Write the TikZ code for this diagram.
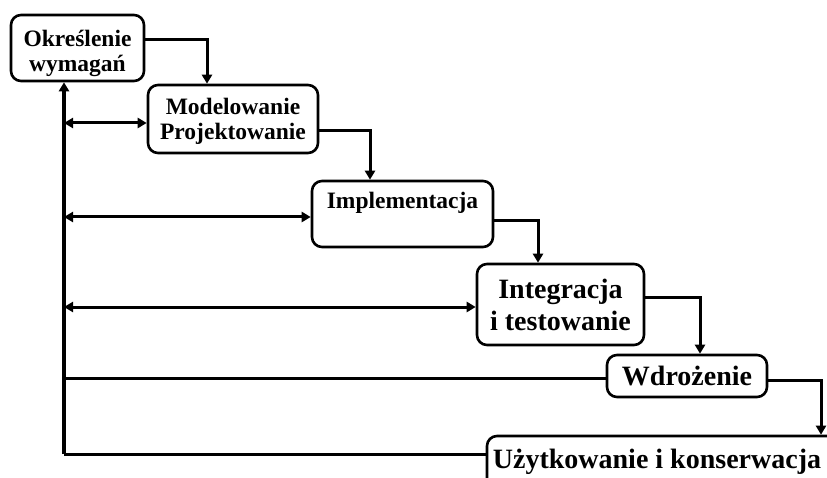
\documentclass[tikz,border=0pt]{standalone}
\usepackage{fontspec}
\setmainfont{Liberation Serif}
\usetikzlibrary{arrows.meta}
\tikzset{
  box/.style={draw, line width=2.6pt, rounded corners=10pt, fill=white, inner sep=0pt, align=center},
  conn/.style={line width=3pt, line join=miter},
  tip/.tip={Triangle[length=9pt,width=10pt]},
  arr/.style={conn, -tip},
  darr/.style={conn, tip-tip},
  fa/.style={font=\fontsize{23.5}{25}\selectfont\bfseries, align=center},
  fb/.style={font=\fontsize{28}{32}\selectfont\bfseries, align=center},
}
\begin{document}
\begin{tikzpicture}[x=1pt,y=-1pt]
\useasboundingbox (0,0) rectangle (827,478);
\clip (0,0) rectangle (827,478);
% boxes
\node[box, minimum width=133pt, minimum height=66pt] (b1) at (77.5,48) {};
\node[fa] (t1) at (77.5,53) {Określenie\\wymagań};
\node[box, minimum width=170pt, minimum height=68pt] (b2) at (233,119) {};
\node[fa] (t2) at (233,121) {Modelowanie\\Projektowanie};
\node[box, minimum width=181pt, minimum height=66pt] (b3) at (402.5,214) {};
\node[fa] (t3) at (402.5,203) {Implementacja};
\node[box, fb, minimum width=167pt, minimum height=81pt] (b4) at (560.5,304.5) {Integracja\\i testowanie};
\node[box, fb, minimum width=160pt, minimum height=42pt] (b5) at (687,376) {Wdrożenie};
\node[box, minimum width=350pt, minimum height=56pt] (b6) at (662,464) {};
\node[fb] (t6) at (657,462) {Użytkowanie i konserwacja};
% forward cascade
\draw[arr] (b1.east |- 0,40) -| (b2.north -| 207,0);
\draw[arr] (b2.east |- 0,131) -| (b3.north -| 370,0);
\draw[arr] (b3.east |- 0,221) -| (b4.north -| 538,0);
\draw[arr] (b4.east |- 0,298) -| (b5.north -| 700,0);
\draw[arr] (b5.east |- 0,380) -| (b6.north -| 821,0);
% feedback
\coordinate (L0) at (64,454);
\coordinate (L2) at (64,123);
\coordinate (L3) at (64,217);
\coordinate (L4) at (64,307);
\coordinate (L5) at (64,378);
\draw[arr, line width=4pt] (L0) -- (b1.south -| L0);
\draw[conn] (L0) -- (b6.west |- L0);
\draw[darr] (L2) -- (b2.west |- L2);
\draw[darr] (L3) -- (b3.west |- L3);
\draw[darr] (L4) -- (b4.west |- L4);
\draw[conn] (L5) -- (b5.west |- L5);
\end{tikzpicture}
\end{document}
